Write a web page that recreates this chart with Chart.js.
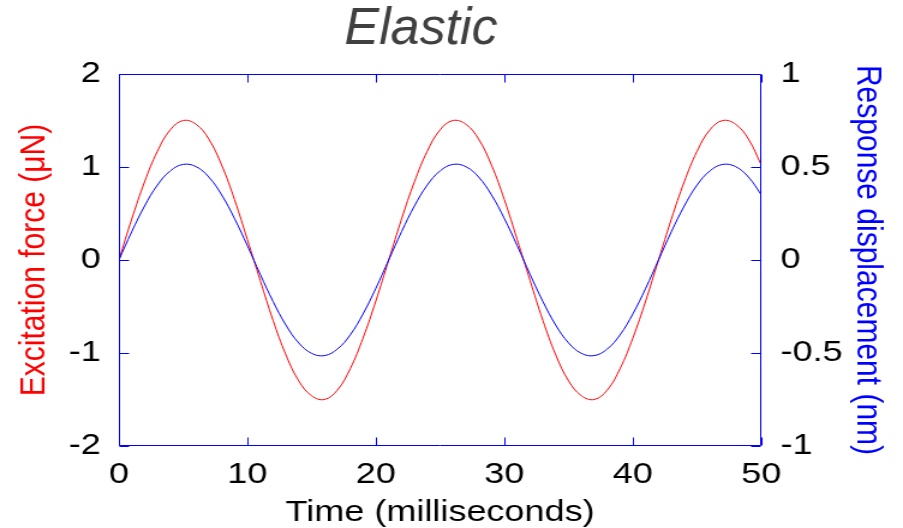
<!DOCTYPE html>
<html>
<head>
<meta charset="utf-8">
<title>Elastic</title>
<script src="https://cdn.jsdelivr.net/npm/chart.js@4/dist/chart.umd.min.js"></script>
<style>
  html, body { margin: 0; padding: 0; background: #fff; overflow: hidden; }
</style>
</head>
<body>
<!-- the reference text is drawn wide, so the canvas is stretched sideways -->
<canvas id="chart" width="752" height="528" style="display:block;width:903px;height:528px"></canvas>
<script>
const timeMs = [
  0, 1, 2, 3, 4, 5, 6, 7, 8, 9, 10, 11, 12, 13, 14, 15, 16, 17, 18, 19, 20,
  21, 22, 23, 24, 25, 26, 27, 28, 29, 30, 31, 32, 33, 34, 35, 36, 37, 38, 39, 40,
  41, 42, 43, 44, 45, 46, 47, 48, 49, 50
];
// excitation force, uN (left axis)
const force = [
  0, 0.44, 0.84, 1.17, 1.40, 1.50, 1.46, 1.30, 1.02, 0.65, 0.22,
  -0.22, -0.65, -1.02, -1.30, -1.46, -1.50, -1.40, -1.17, -0.84, -0.44,
  0, 0.44, 0.84, 1.17, 1.40, 1.50, 1.46, 1.30, 1.02, 0.65, 0.22,
  -0.22, -0.65, -1.02, -1.30, -1.46, -1.50, -1.40, -1.17, -0.84, -0.44,
  0, 0.44, 0.84, 1.17, 1.40, 1.50, 1.46, 1.30, 1.02
];
// response displacement, nm (right axis)
const displacement = [
  0, 0.152, 0.290, 0.403, 0.479, 0.514, 0.502, 0.446, 0.350, 0.223, 0.077,
  -0.077, -0.223, -0.350, -0.446, -0.502, -0.514, -0.479, -0.403, -0.290, -0.152,
  0, 0.152, 0.290, 0.403, 0.479, 0.514, 0.502, 0.446, 0.350, 0.223, 0.077,
  -0.077, -0.223, -0.350, -0.446, -0.502, -0.514, -0.479, -0.403, -0.290, -0.152,
  0, 0.152, 0.290, 0.403, 0.479, 0.514, 0.502, 0.446, 0.350
];
const forceTicks = [-2, -1, 0, 1, 2];
const dispTicks = [-1, -0.5, 0, 0.5, 1];
const timeTicks = [0, 10, 20, 30, 40, 50];
const titleText = "Elastic";

const FONT = "'Liberation Sans', Arial, Helvetica, sans-serif";
const tickFont = {family: FONT, size: 30};
const TICK_LEN = 8;
const STRETCH = 903 / 752;
const noGrid = {display: false, drawTicks: false};

// blue box round the plot with inward tick marks, like the original
const frameAndTicks = {
  id: "frameAndTicks",
  afterDatasetsDraw(chart) {
    const {ctx, chartArea, scales} = chart;
    const left = Math.round(chartArea.left) + 0.5;
    const right = Math.round(chartArea.right) - 0.5;
    const top = Math.round(chartArea.top) + 0.5;
    const bottom = Math.round(chartArea.bottom) - 0.5;
    ctx.save();
    ctx.strokeStyle = "#0000ff";
    ctx.lineWidth = 1;
    ctx.beginPath();
    ctx.rect(left, top, right - left, bottom - top);
    timeTicks.forEach(v => {
      const px = Math.round(scales.x.getPixelForValue(v)) + 0.5;
      ctx.moveTo(px, top); ctx.lineTo(px, top + TICK_LEN);
      ctx.moveTo(px, bottom); ctx.lineTo(px, bottom - TICK_LEN);
    });
    forceTicks.forEach(v => {
      const py = Math.round(scales.yForce.getPixelForValue(v)) + 0.5;
      ctx.moveTo(left, py); ctx.lineTo(left + TICK_LEN, py);
    });
    dispTicks.forEach(v => {
      const py = Math.round(scales.yDisp.getPixelForValue(v)) + 0.5;
      ctx.moveTo(right, py); ctx.lineTo(right - TICK_LEN, py);
    });
    ctx.stroke();
    ctx.restore();
  }
};

// the title is not stretched in the original, so undo the canvas stretch for it
const plainTitle = {
  id: "plainTitle",
  afterDraw(chart) {
    const {ctx} = chart;
    ctx.save();
    ctx.scale(1 / STRETCH, 1);
    ctx.font = "italic 52px " + FONT;
    ctx.fillStyle = "#404040";
    ctx.textAlign = "center";
    ctx.textBaseline = "alphabetic";
    ctx.fillText(titleText, 421, 44);
    ctx.restore();
  }
};

new Chart(document.getElementById("chart"), {
  type: "line",
  data: {
    datasets: [
      {
        label: "Response displacement",
        data: timeMs.map((t, i) => ({x: t, y: displacement[i]})),
        yAxisID: "yDisp",
        borderColor: "#0000ff",
        borderWidth: 1,
        pointRadius: 0,
        tension: 0.4,
        fill: false,
      },
      {
        label: "Excitation force",
        data: timeMs.map((t, i) => ({x: t, y: force[i]})),
        yAxisID: "yForce",
        borderColor: "#ff0000",
        borderWidth: 1,
        pointRadius: 0,
        tension: 0.4,
        fill: false,
      },
    ]
  },
  options: {
    responsive: false,
    animation: false,
    events: [],
    layout: {padding: {top: 74, left: 0, right: 0, bottom: 0}},
    plugins: {
      legend: {display: false},
      tooltip: {enabled: false},
      title: {display: false},
    },
    scales: {
      x: {
        type: "linear",
        min: 0,
        max: 50,
        grid: noGrid,
        border: {display: false},
        ticks: {stepSize: 10, color: "#000", font: tickFont, padding: 11, maxRotation: 0},
        title: {display: true, text: "Time (milliseconds)", color: "#000", font: tickFont, padding: {top: 0, bottom: -3}},
        afterFit(scale) { scale.height = 82; },
      },
      yForce: {
        position: "left",
        min: -2,
        max: 2,
        grid: noGrid,
        border: {display: false},
        ticks: {stepSize: 1, color: "#000", font: tickFont, padding: 15},
        title: {display: true, text: "Excitation force (μN)", color: "#ff0000", font: tickFont, padding: {top: 11, bottom: 0}},
        afterFit(scale) { scale.width = 99; },
      },
      yDisp: {
        position: "right",
        min: -1,
        max: 1,
        grid: noGrid,
        border: {display: false},
        ticks: {stepSize: 0.5, color: "#000", font: tickFont, padding: 16, callback: v => String(v)},
        title: {display: true, text: "Response displacement (nm)", color: "#0000ff", font: tickFont, padding: {top: 12, bottom: 0}},
        afterFit(scale) { scale.width = 118; },
      },
    }
  },
  plugins: [frameAndTicks, plainTitle]
});
</script>
</body>
</html>
